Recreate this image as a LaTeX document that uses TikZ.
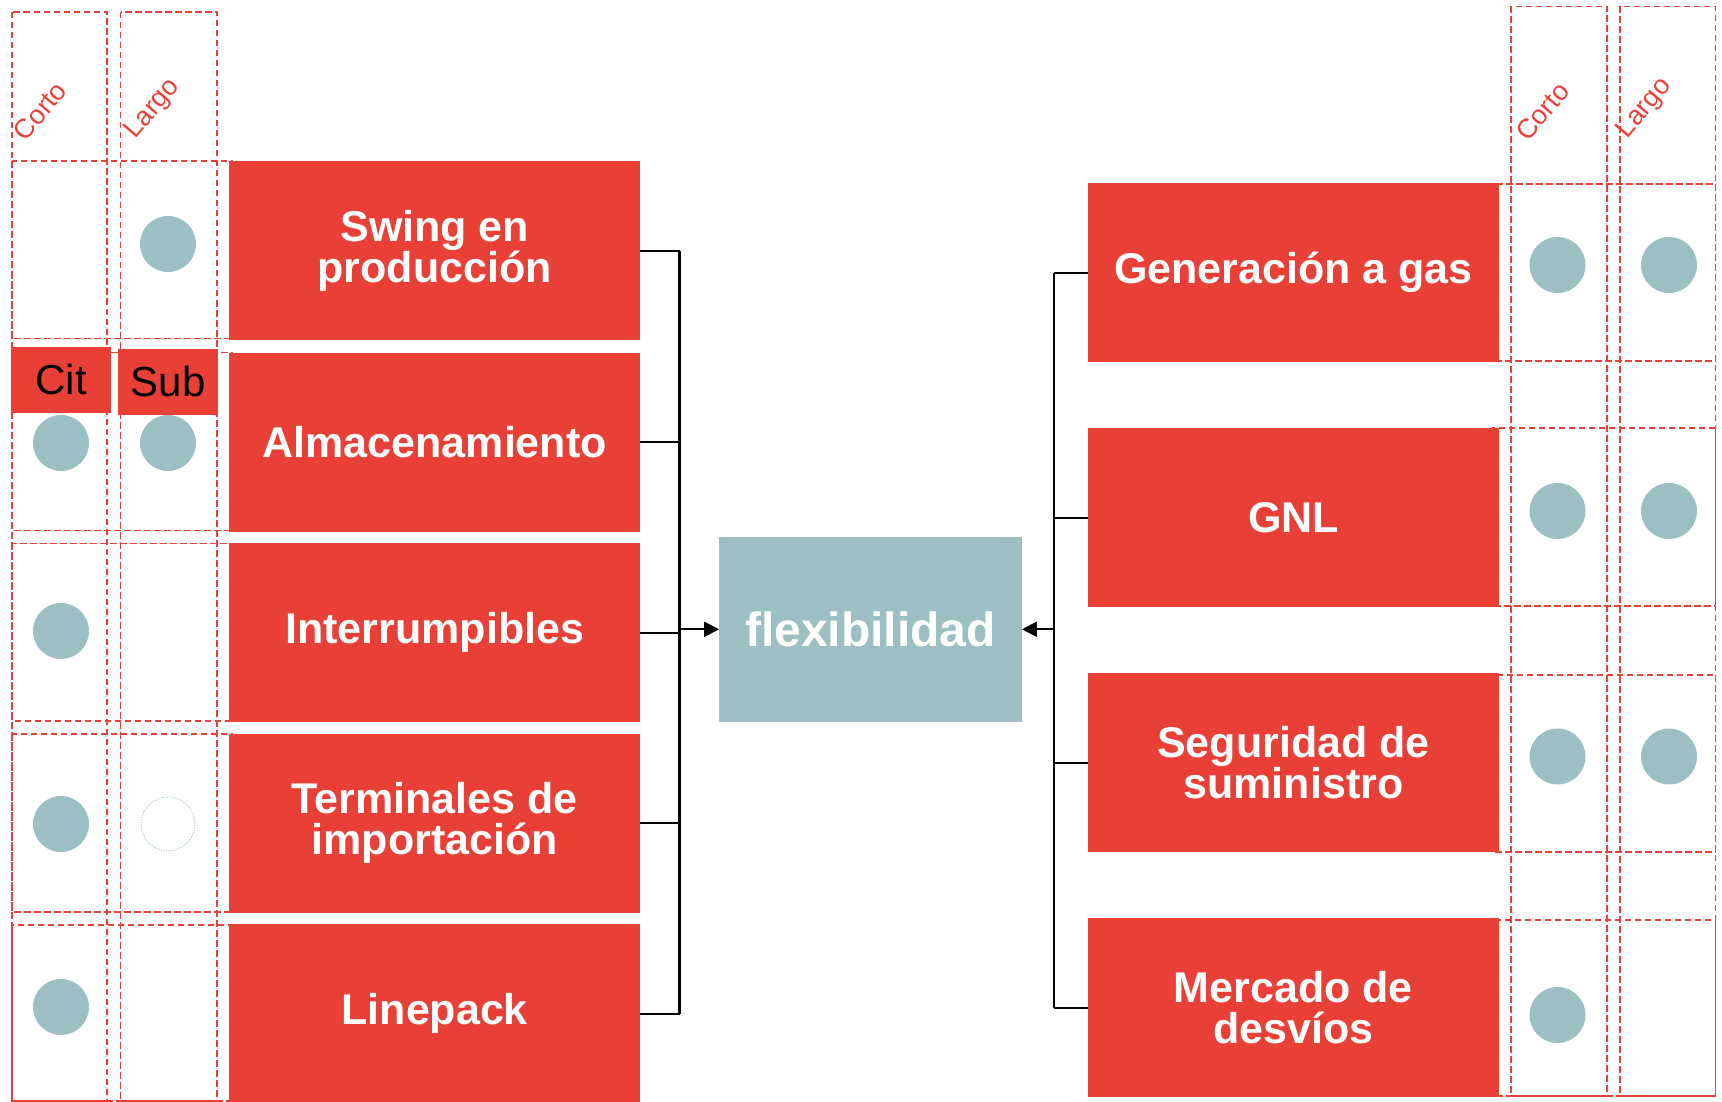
\documentclass[tikz,border=0pt]{standalone}
\usepackage{fontspec}
\setmainfont{Liberation Sans}
\usetikzlibrary{arrows.meta}
\definecolor{boxred}{RGB}{232,64,54}
\definecolor{tealc}{RGB}{155,191,194}
\tikzset{
  redbox/.style={fill=boxred, draw=none, minimum width=411pt, minimum height=179pt,
    inner sep=0pt, text=white, font=\bfseries\fontsize{43}{41}\selectfont,
    align=center, anchor=north west},
  gridline/.style={draw=boxred, dash pattern=on 6.5pt off 3.5pt, line width=1.7pt},
  tealdot/.style={circle, fill=tealc, minimum size=56pt, inner sep=0pt},
  emptydot/.style={circle, draw=tealc, dash pattern=on 1pt off 1.5pt, line width=0.9pt, minimum size=54pt, inner sep=0pt},
  hdr/.style={text=boxred, font=\fontsize{27}{27}\selectfont, rotate=50, inner sep=0pt},
  tag/.style={fill=boxred, text=black, font=\fontsize{42}{42}\selectfont, inner sep=0pt,
    anchor=north west, minimum width=100pt, minimum height=65.5pt},
  link/.style={line width=2.2pt, black},
  arr/.style={link, -{Triangle[length=15pt,width=15pt]}},
}
\begin{document}
\begin{tikzpicture}[x=1pt,y=-1pt]
\useasboundingbox (0,0) rectangle (1722,1102);
% ---- left grid
\draw[gridline] (12,12) rectangle (107,1101);
\draw[gridline] (120.5,12) rectangle (217,1101);
\foreach \t/\b in {161/338.6, 352.5/530.4, 543.6/721, 734/911.7, 925/1101}
  \draw[gridline] (12,\t) rectangle (232,\b);
% ---- right grid
\draw[gridline] (1510.8,6.4) rectangle (1606.8,1096);
\draw[gridline] (1620,6.4) rectangle (1715.6,1096);
\foreach \t/\b in {184/360.7, 428/606, 674.8/851.8, 920/1096}
  \draw[gridline] (1492,\t) rectangle (1715.6,\b);
% ---- headers
\node[hdr] (hlc) at (40,111) {Corto};
\node[hdr] (hll) at (153,109) {Largo};
\node[hdr] (hrc) at (1542.5,111.5) {Corto};
\node[hdr] (hrl) at (1644.8,108.5) {Largo};
% ---- tags
\node[tag] (cit) at (11,347) {Cit};
\node[tag] (sub) at (118,349) {Sub};
% ---- left boxes
\node[redbox] (l1) at (229,161)   {Swing en\\producción};
\node[redbox] (l2) at (229,352.5) {Almacenamiento};
\node[redbox] (l3) at (229,543)   {Interrumpibles};
\node[redbox] (l4) at (229,733.5) {Terminales de\\importación};
\node[redbox] (l5) at (229,924)   {Linepack};
% ---- right boxes
\node[redbox] (r1) at (1087.7,183) {Generación a gas};
\node[redbox] (r2) at (1087.7,428) {GNL};
\node[redbox] (r3) at (1087.7,673) {Seguridad de\\suministro};
\node[redbox] (r4) at (1087.7,918) {Mercado de\\desvíos};
% ---- centre
\node[fill=tealc, minimum width=302.4pt, minimum height=184.7pt, inner sep=0pt,
  text=white, font=\bfseries\fontsize{48}{48}\selectfont] (flex) at (870.5,629.3) {flexibilidad};
% ---- circles left
\node[tealdot] (c1b) at (168,244) {};
\node[tealdot] (c2a) at (61,443) {};
\node[tealdot] (c2b) at (168,443) {};
\node[tealdot] (c3a) at (61,631) {};
\node[tealdot] (c4a) at (61,824) {};
\node[emptydot] (c4b) at (168,824) {};
\node[tealdot] (c5a) at (61,1007) {};
% ---- circles right
\node[tealdot] (d1a) at (1557.5,265) {};
\node[tealdot] (d1b) at (1669,265) {};
\node[tealdot] (d2a) at (1557.5,511) {};
\node[tealdot] (d2b) at (1669,511) {};
\node[tealdot] (d3a) at (1557.5,756.5) {};
\node[tealdot] (d3b) at (1669,756.5) {};
\node[tealdot] (d4a) at (1557.5,1015) {};
% ---- connectors left
\coordinate (lbx) at (679.5,0);
\foreach \n in {l1,l2,l3,l4,l5}
  \draw[link] (\n.east) -- (\n.east -| lbx);
\draw[link] (l1.east -| lbx) -- (l5.east -| lbx);
\draw[arr] (flex.west -| lbx) -- (flex.west);
% ---- connectors right
\coordinate (rbx) at (1054,0);
\foreach \n in {r1,r2,r3,r4}
  \draw[link] (\n.west) -- (\n.west -| rbx);
\draw[link] (r1.west -| rbx) -- (r4.west -| rbx);
\draw[arr] (flex.east -| rbx) -- (flex.east);
\end{tikzpicture}
\end{document}
